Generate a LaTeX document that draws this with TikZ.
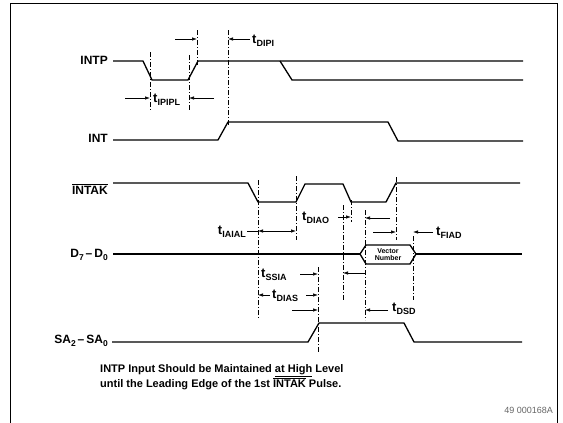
\documentclass[tikz,border=0pt]{standalone}
\usepackage{fontspec}
\setmainfont{Liberation Sans}
\usetikzlibrary{arrows.meta}
\newcommand{\tsub}[1]{{\fontsize{13}{13}\selectfont t}\raisebox{-3pt}{\fontsize{9}{9}\selectfont #1}}
\newcommand{\lsub}[1]{\raisebox{-2.5pt}{\fontsize{8.5}{9}\selectfont #1}}
\begin{document}
\begin{tikzpicture}[x=1pt,y=-1pt,
  sig/.style={line width=1.3pt},
  guide/.style={line width=0.5pt, dash pattern=on 5pt off 2pt on 1pt off 2pt},
  dim/.style={line width=0.7pt, -{Latex[length=5pt,width=3.5pt]}},
  dimb/.style={line width=0.7pt, {Latex[length=5pt,width=3.5pt]}-{Latex[length=5pt,width=3.5pt]}},
  lab/.style={font=\fontsize{12}{13}\selectfont\bfseries, inner sep=0pt},
  note/.style={font=\fontsize{11}{12}\selectfont\bfseries, inner sep=0pt},
  tlab/.style={font=\bfseries, inner sep=0pt}]
\useasboundingbox (0,0) rectangle (563,423);
% frame
\draw[line width=0.8pt] (10,423) -- (10,3) -- (557,3) -- (557,423);
% signal labels
\node[lab, anchor=east] (lintp) at (108,60) {INTP};
\node[lab, anchor=east] (lint) at (108,138) {INT};
\node[lab, anchor=east] (lintak) at (108,189) {$\overline{\hbox{INTAK}}$};
\node[lab, anchor=east] (ld) at (108,255) {D\lsub{7}\,--\,D\lsub{0}};
\node[lab, anchor=east] (lsa) at (108,341) {SA\lsub{2}\,--\,SA\lsub{0}};
% signals
\draw[sig] (113,61) -- (143,61) -- (152,80) -- (188,80) -- (198,61) -- (523,61);
\draw[sig] (280,61) -- (292,80) -- (523,80);
\draw[sig] (113,140) -- (218,140) -- (228,122) -- (388,122) -- (398,141) -- (523,141);
\draw[sig] (113,183) -- (248,183) -- (258,202) -- (296,202) -- (305,184) -- (343,184) -- (351,202) -- (386,202) -- (396,183) -- (520,183);
\draw[sig] (113,254) -- (360,254);
\draw[sig] (360,254) -- (366,245) -- (410,245) -- (416,254) -- (410,264) -- (366,264) -- cycle;
\draw[sig] (416,254) -- (522,254);
\node[font=\fontsize{7}{7.5}\selectfont\bfseries, align=center, inner sep=0pt] (vec) at (388,254.5) {Vector\\Number};
\draw[sig] (112,342) -- (308,342) -- (319,323) -- (404,323) -- (414,342) -- (522,342);
% guides
\draw[guide] (150,52) -- (150,110);
\draw[guide] (189,55) -- (189,110);
\draw[guide] (197,30) -- (197,66);
\draw[guide] (228,30) -- (228,125);
\draw[guide] (258,180) -- (258,318);
\draw[guide] (296,176) -- (296,240);
\draw[guide] (343,205) -- (343,300);
\draw[guide] (351,200) -- (351,222);
\draw[guide] (365,210) -- (365,320);
\draw[guide] (396,177) -- (396,240);
\draw[guide] (413,236) -- (413,300);
\draw[guide] (318,267) -- (318,352);
% timing arrows
\draw[dim] (175,39) -- (197,39);
\draw[dim] (250,39) -- (228,39);
\node[tlab, anchor=west] (tdipi) at (252,41) {\tsub{DIPI}};
\draw[dim] (125,98) -- (150,98);
\node[tlab, anchor=west] (tipipl) at (153,100) {\tsub{IPIPL}};
\draw[dim] (214,98) -- (189,98);
\node[tlab, anchor=east] (tiaial) at (246,232) {\tsub{IAIAL}};
\draw[line width=0.7pt] (247,231) -- (258,231);
\draw[dimb] (258,231) -- (296,231);
\node[tlab, anchor=west] (tdiao) at (302,218) {\tsub{DIAO}};
\draw[dim] (338,217) -- (351,217);
\draw[dim] (390,218) -- (365,218);
\draw[dim] (373,232) -- (396,232);
\draw[dim] (433,232) -- (413,232);
\node[tlab, anchor=west] (tfiad) at (436,233) {\tsub{FIAD}};
\node[tlab, anchor=west] (tssia) at (261,275) {\tsub{SSIA}};
\draw[dim] (300,274) -- (318,274);
\draw[dim] (365,273) -- (343,273);
\draw[dim] (270,295) -- (258,295);
\node[tlab, anchor=west] (tdias) at (272,296) {\tsub{DIAS}};
\draw[dim] (306,295) -- (318,295);
\draw[dim] (292,310) -- (318,310);
\draw[dim] (388,310) -- (365,310);
\node[tlab, anchor=west] (tdsd) at (392,309) {\tsub{DSD}};
% note
\node[note, anchor=north west, align=left] (notetext) at (100,364) {INTP Input Should be Maintained \underline{at High} Level\\until the Leading Edge of the 1st $\overline{\hbox{INTAK}}$ Pulse.};
\node[font=\fontsize{9}{10}\selectfont, text=black!60, anchor=east, inner sep=0pt] (code) at (553,410) {49 000168A};
\end{tikzpicture}
\end{document}
